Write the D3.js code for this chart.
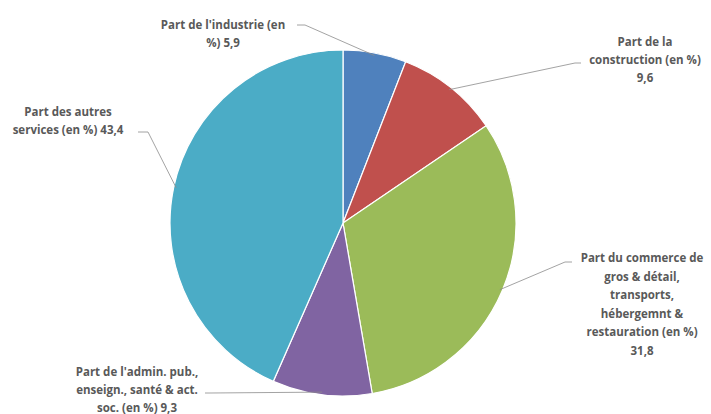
<!DOCTYPE html>
<html>
<head>
<meta charset="utf-8">
<script src="https://cdn.jsdelivr.net/npm/d3@7"></script>
<style>
  body { margin: 0; background: #fff; }
  .lbl { font-family: "Open Sans", Lato, sans-serif; font-weight: bold; font-size: 11.5px; fill: #595959; }
  .leader { fill: none; stroke: #8c8c8c; stroke-width: 0.8; }
</style>
</head>
<body>
<script>
// slice data, clockwise from 12 o'clock
var sectors = ["industrie", "construction", "commerce", "admin", "autres"];
var shares = [5.9, 9.6, 31.8, 9.3, 43.4];
var labels = [
  ["Part de l'industrie (en", "%) 5,9"],
  ["Part de la", "construction (en %)", "9,6"],
  ["Part du commerce de", "gros & détail,", "transports,", "hébergemnt &", "restauration (en %)", "31,8"],
  ["Part de l'admin. pub.,", "enseign., santé & act.", "soc. (en %) 9,3"],
  ["Part des autres", "services (en %) 43,4"]
];
var colors = ["#4f81bd", "#c0504d", "#9bbb59", "#8064a2", "#4bacc6"];

var W = 711, H = 414;
var cx = 343, cy = 223, r = 173;

// label layout: centre x, first line y, elbow point, line end near text
var layout = [
  {x: 223, y: 29, dy: 18, elbow: [305, 25], end: [297, 25]},
  {x: 645, y: 46, dy: 18, elbow: [575, 63], end: [581, 63]},
  {x: 642, y: 262, dy: 18.5, elbow: [565, 262], end: [572, 262]},
  {x: 137, y: 376, dy: 17.8, elbow: [210, 393], end: [205, 393]},
  {x: 68, y: 116, dy: 18, elbow: [148, 132], end: [138, 132]}
];

var svg = d3.select("body").append("svg")
    .attr("width", W)
    .attr("height", H);

var pie = d3.pie().sort(null).value(function(d) { return d; });
var arcs = pie(shares);

var arc = d3.arc().innerRadius(0).outerRadius(r);

var g = svg.append("g").attr("transform", "translate(" + cx + "," + cy + ")");

g.selectAll("path.slice")
  .data(arcs)
  .enter().append("path")
    .attr("class", "slice")
    .attr("d", arc)
    .attr("fill", function(d, i) { return colors[i]; })
    .attr("stroke", "#fff")
    .attr("stroke-width", 1.2);

// leader lines from slice edge (mid angle) to labels
arcs.forEach(function(d, i) {
  var a = (d.startAngle + d.endAngle) / 2;
  var p0 = [cx + Math.sin(a) * r * 0.985, cy - Math.cos(a) * r * 0.985];
  var L = layout[i];
  svg.append("path")
    .attr("class", "leader")
    .attr("d", d3.line()([p0, L.elbow, L.end]));

  var t = svg.append("text")
    .attr("class", "lbl")
    .attr("text-anchor", "middle")
    .attr("x", L.x)
    .attr("y", L.y);
  labels[i].forEach(function(line, k) {
    t.append("tspan").attr("x", L.x).attr("dy", k === 0 ? 0 : L.dy).text(line);
  });
});
</script>
</body>
</html>
